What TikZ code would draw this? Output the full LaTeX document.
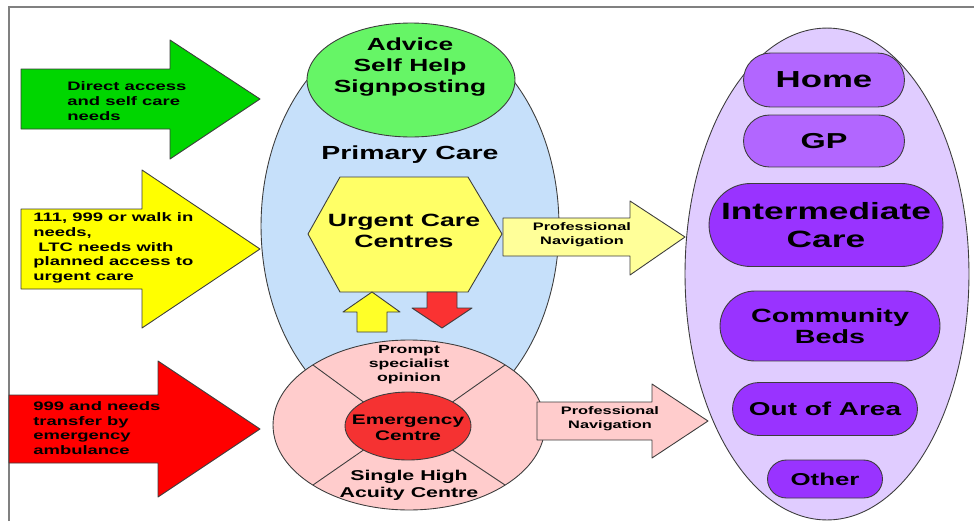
\documentclass[tikz,border=0pt]{standalone}
\usepackage{fontspec}
\setmainfont{Liberation Sans}[FakeStretch=1.5]
\usetikzlibrary{shapes.geometric}

\definecolor{inGreen}{RGB}{0,214,0}
\definecolor{inYellow}{RGB}{255,255,0}
\definecolor{inRed}{RGB}{255,0,0}
\definecolor{primBlue}{RGB}{198,224,250}
\definecolor{adviceGreen}{RGB}{102,245,102}
\definecolor{urgYellow}{RGB}{255,255,102}
\definecolor{upYellow}{RGB}{255,255,40}
\definecolor{downRed}{RGB}{250,50,50}
\definecolor{emPink}{RGB}{255,204,204}
\definecolor{emRed}{RGB}{245,50,50}
\definecolor{navYellow}{RGB}{255,255,153}
\definecolor{destLilac}{RGB}{224,204,255}
\definecolor{destLight}{RGB}{178,102,255}
\definecolor{destDark}{RGB}{153,51,255}
\definecolor{edgeGrey}{RGB}{60,60,60}

\tikzset{
  outl/.style={draw=edgeGrey, line width=0.5pt, line join=round},
  ell/.style={ellipse, outl, inner sep=0pt, outer sep=0pt},
  pill/.style={rectangle, outl, inner sep=0pt, outer sep=0pt},
  txt/.style 2 args={font=\fontsize{#1}{#2}\selectfont\bfseries, align=center, inner sep=0pt},
  intxt/.style={txt={7}{8.4}, align=left, anchor=west},
  pageframe/.style={draw=gray, line width=0.9pt}
}

\begin{document}
\begin{tikzpicture}[x=0.02cm, y=-0.02cm]
  \useasboundingbox (0,0) rectangle (974,521);
  \draw[pageframe] (9,521) -- (9,7) -- (974,7);

  % primary care
  \node[ell, fill=primBlue, minimum width=5.96cm, minimum height=8.08cm] (prim) at (410,226) {};
  \node[ell, fill=adviceGreen, minimum width=4.16cm, minimum height=2.28cm] (advice) at (411,80) {};
  \node[txt={10}{12.2}] (advicetxt) at (410,67) {Advice\\Self Help\\Signposting};
  \node[txt={10.8}{13}] (primtxt) at (410,155) {Primary Care};
  \draw[outl, fill=urgYellow] (308,234) -- (340,177) -- (468,177) -- (502,234) -- (468,292) -- (340,292) -- cycle;
  \node[txt={10.1}{12}] (urgent) at (404,231) {Urgent Care\\Centres};
  \draw[outl, fill=upYellow] (357,332) -- (357,312) -- (343,312) -- (372,292) -- (400,312) -- (387,312) -- (387,332) -- cycle;
  \draw[outl, fill=downRed] (427,292) -- (457,292) -- (457,308) -- (472,308) -- (442,328) -- (412,308) -- (427,308) -- cycle;

  % emergency centre
  \node[ell, fill=emPink, minimum width=5.44cm, minimum height=3.4cm] (acute) at (409,425) {};
  \node[ell, fill=emRed, minimum width=2.52cm, minimum height=1.36cm] (emerg) at (408,426) {};
  \draw[outl] (emerg.north west) -- (acute.north west);
  \draw[outl] (emerg.north east) -- (acute.north east);
  \draw[outl] (emerg.south west) -- (acute.south west);
  \draw[outl] (emerg.south east) -- (acute.south east);
  \node[txt={6.7}{8}] (prompt) at (409,365) {Prompt\\specialist\\opinion};
  \node[txt={7.9}{9.1}] (emergtxt) at (408,428) {Emergency\\Centre};
  \node[txt={8.1}{9.7}] (single) at (409,485) {Single High\\Acuity Centre};

  % ways in
  \draw[outl, fill=inGreen] (21,69) -- (170,69) -- (170,40) -- (260,99) -- (170,159) -- (170,129) -- (21,129) -- cycle;
  \node[intxt] (selfcare) at (67,101) {Direct access\\and self care\\needs};
  \draw[outl, fill=inYellow] (21,209) -- (142,209) -- (142,170) -- (260,249) -- (142,328) -- (142,289) -- (21,289) -- cycle;
  \node[intxt] (walkin) at (33,248) {111, 999 or walk in\\needs,\\\ LTC needs with\\planned access to\\urgent care};
  \draw[outl, fill=inRed] (9,395) -- (158,395) -- (158,361) -- (260,429) -- (158,497) -- (158,463) -- (9,463) -- cycle;
  \node[intxt] (ambulance) at (33,428) {999 and needs\\transfer by\\emergency\\ambulance};

  % destinations
  \node[ell, fill=destLilac, minimum width=5.68cm, minimum height=9.84cm] (dest) at (827,274) {};
  \node[pill, fill=destLight, minimum width=3.22cm, minimum height=1.08cm, rounded corners=0.54cm, txt={13.2}{15.8}] (home) at (824,80) {Home};
  \node[pill, fill=destLight, minimum width=3.22cm, minimum height=1.04cm, rounded corners=0.52cm, txt={12.3}{14.8}] (gp) at (824,141) {GP};
  \node[pill, fill=destDark, minimum width=4.68cm, minimum height=1.66cm, rounded corners=0.83cm, txt={13.4}{16}] (inter) at (826,225) {Intermediate\\Care};
  \node[pill, fill=destDark, minimum width=4.4cm, minimum height=1.4cm, rounded corners=0.7cm, txt={10.9}{12}] (beds) at (830,326) {Community\\Beds};
  \node[pill, fill=destDark, minimum width=3.7cm, minimum height=1.06cm, rounded corners=0.53cm, txt={10.6}{12.7}] (area) at (825,409) {Out of Area};
  \node[pill, fill=destDark, minimum width=2.3cm, minimum height=0.76cm, rounded corners=0.38cm, txt={9.8}{11.8}] (other) at (825,479) {Other};

  % professional navigation
  \draw[outl, fill=navYellow] (503,218) -- (630,218) -- (630,201) -- (685,237) -- (630,275) -- (630,256) -- (503,256) -- cycle;
  \node[txt={6.2}{8}] (nav1) at (582,235) {Professional\\Navigation};
  \draw[outl, fill=emPink] (537,402) -- (652,402) -- (652,384) -- (708,421) -- (652,458) -- (652,440) -- (537,440) -- cycle;
  \node[txt={6.2}{8}] (nav2) at (610,419) {Professional\\Navigation};
\end{tikzpicture}
\end{document}
